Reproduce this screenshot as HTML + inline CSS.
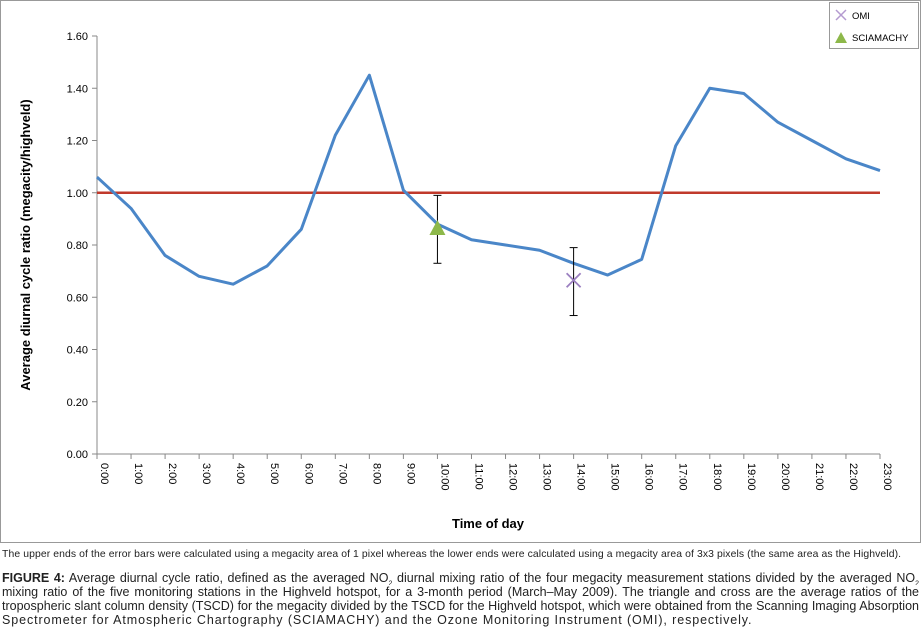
<!DOCTYPE html>
<html><head><meta charset="utf-8"><style>
body{margin:0;width:923px;height:629px;background:#fff;font-family:"Liberation Sans",sans-serif;overflow:hidden;position:relative}
svg{position:absolute;left:0;top:0}
.cap{position:absolute;left:2px;width:917px;font-size:12.5px;letter-spacing:0.9px;color:#222;white-space:nowrap;line-height:14px}
.j{text-align:justify;text-align-last:justify;white-space:normal;height:14px;overflow:hidden;letter-spacing:0}
</style></head><body>
<svg width="923" height="545">
<rect x="0.5" y="0.5" width="920" height="542" fill="#fff" stroke="#999"/>
<g id="axes"></g><g id="marks"></g>
<text x="0" y="0" transform="translate(30,245) rotate(-90)" text-anchor="middle" font-size="13" font-weight="bold">Average diurnal cycle ratio (megacity/highveld)</text>
<text x="488" y="528" text-anchor="middle" font-size="13" font-weight="bold">Time of day</text>
<g>
<rect x="829.5" y="2.5" width="89" height="46" fill="#fff" stroke="#999"/>
<g><path d="M836 10 L846 20 M846 10 L836 20" stroke="#b49ad0" stroke-width="1.5"/><text x="852" y="19" font-size="9.5">OMI</text></g>
<g><path d="M835 43 L841 32 L847 43 Z" fill="#8db84a"/><text x="852" y="41" font-size="9.5">SCIAMACHY</text></g>
</g>
</svg>
<div class="cap" style="top:548px;font-size:10.4px;letter-spacing:0.1px">The upper ends of the error bars were calculated using a megacity area of 1 pixel whereas the lower ends were calculated using a megacity area of 3x3 pixels (the same area as the Highveld).</div>
<div class="cap j" style="top:571px"><b>FIGURE 4:</b> Average diurnal cycle ratio, defined as the averaged NO<sub style="font-size:7px">2</sub> diurnal mixing ratio of the four megacity measurement stations divided by the averaged NO<sub style="font-size:7px">2</sub> diurnal</div>
<div class="cap j" style="top:585px">mixing ratio of the five monitoring stations in the Highveld hotspot, for a 3-month period (March–May 2009). The triangle and cross are the average ratios of the</div>
<div class="cap j" style="top:599px">tropospheric slant column density (TSCD) for the megacity divided by the TSCD for the Highveld hotspot, which were obtained from the Scanning Imaging Absorption</div>
<div class="cap" style="top:613px">Spectrometer for Atmospheric Chartography (SCIAMACHY) and the Ozone Monitoring Instrument (OMI), respectively.</div>
<script>
const hours=["0:00","1:00","2:00","3:00","4:00","5:00","6:00","7:00","8:00","9:00","10:00","11:00","12:00","13:00","14:00","15:00","16:00","17:00","18:00","19:00","20:00","21:00","22:00","23:00"];
const ratio=[1.06,0.94,0.76,0.68,0.65,0.72,0.86,1.22,1.45,1.01,0.88,0.82,0.80,0.78,0.73,0.685,0.745,1.18,1.40,1.38,1.27,1.20,1.13,1.085];
const yTicks=[0,0.2,0.4,0.6,0.8,1.0,1.2,1.4,1.6];
const refLine=[1.0];
const sciaIdx=[10], sciaVal=[0.865], sciaLo=[0.73], sciaHi=[0.99];
const omiIdx=[14], omiVal=[0.665], omiLo=[0.53], omiHi=[0.79];
const NS="http://www.w3.org/2000/svg";
const X0=97,X1=880,Y0=454,Y1=36;
const xs=i=>X0+i*(X1-X0)/(hours.length-1);
const ys=v=>Y0-v/1.6*(Y0-Y1);
function mk(t,a,p){const e=document.createElementNS(NS,t);for(const k in a)e.setAttribute(k,a[k]);p.appendChild(e);return e;}
const ax=document.getElementById('axes'),mg=document.getElementById('marks');
let e=mk('line',{x1:X0,y1:Y1,x2:X0,y2:Y0,stroke:'#888'},ax);


e=mk('line',{x1:X0,y1:Y0,x2:X1,y2:Y0,stroke:'#888'},ax);


yTicks.forEach(v=>{const y=ys(v);mk('line',{x1:X0-5,y1:y,x2:X0,y2:y,stroke:'#888'},ax);
 const t=mk('text',{x:X0-9,y:y+4,'text-anchor':'end','font-size':11},ax);t.textContent=v.toFixed(2);
 
 });
hours.forEach((h,i)=>{const x=xs(i);mk('line',{x1:x,y1:Y0,x2:x,y2:Y0+5,stroke:'#888'},ax);
 const t=mk('text',{x:0,y:0,transform:`translate(${x+4},${Y0+9}) rotate(90)`,'font-size':11},ax);t.textContent=h;
 
 });
refLine.forEach(v=>{const l=mk('line',{x1:X0,y1:ys(v),x2:X1,y2:ys(v),stroke:'#c0392b','stroke-width':2.5},mg);
 
 });
const p=mk('polyline',{points:ratio.map((v,i)=>xs(i)+','+ys(v)).join(' '),fill:'none',stroke:'#4a86c8','stroke-width':3,'stroke-linejoin':'round'},mg);


function err(i,lo,hi,nm){const x=xs(i);const g=mk('g',{stroke:'#000','stroke-width':1},mg);
 
 
 mk('line',{x1:x,y1:ys(lo),x2:x,y2:ys(hi)},g);mk('line',{x1:x-4,y1:ys(lo),x2:x+4,y2:ys(lo)},g);mk('line',{x1:x-4,y1:ys(hi),x2:x+4,y2:ys(hi)},g);}
sciaIdx.forEach((i,k)=>{err(i,sciaLo[k],sciaHi[k],'sciamachy-error-bar');const x=xs(i),y=ys(sciaVal[k]);
 const t=mk('path',{d:`M${x-8} ${y+7} L${x} ${y-8} L${x+8} ${y+7} Z`,fill:'#8db84a'},mg);
 
 });
omiIdx.forEach((i,k)=>{err(i,omiLo[k],omiHi[k],'omi-error-bar');const x=xs(i),y=ys(omiVal[k]);
 const t=mk('path',{d:`M${x-7} ${y-7} L${x+7} ${y+7} M${x+7} ${y-7} L${x-7} ${y+7}`,stroke:'#9b7fc0','stroke-width':1.8},mg);
 
 });
</script>
</body></html>
